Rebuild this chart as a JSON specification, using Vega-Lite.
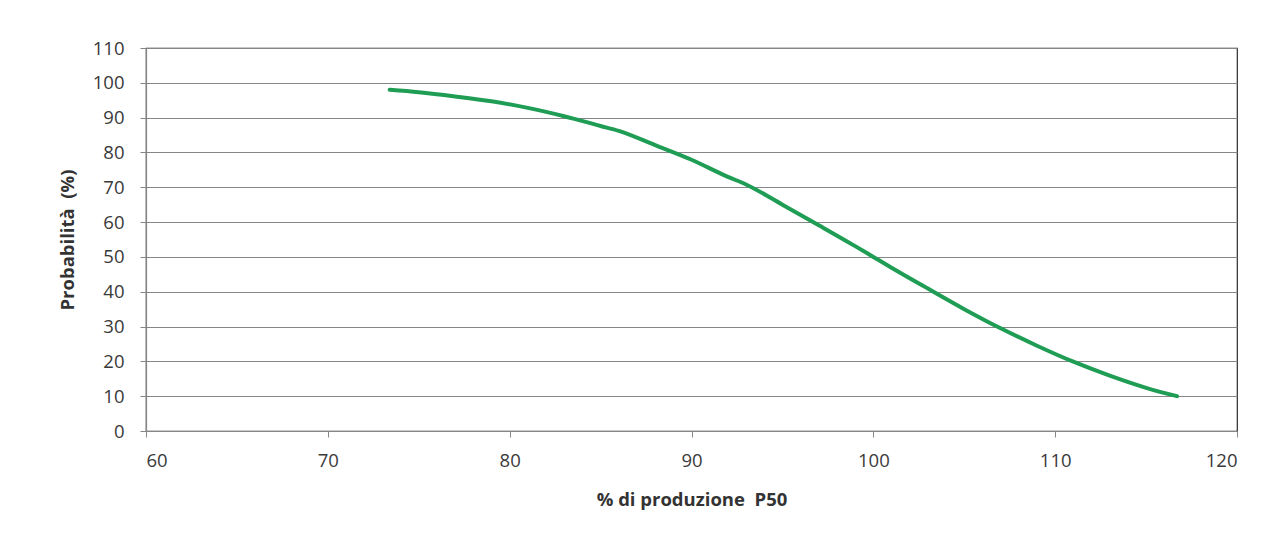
{
  "$schema": "https://vega.github.io/schema/vega-lite/v6.json",
  "width": 1091,
  "height": 383,
  "autosize": {"type": "none"},
  "padding": {"left": 146, "top": 48, "right": 48, "bottom": 127},
  "background": "white",
  "config": {
    "view": {"stroke": "#2b2b2b", "strokeWidth": 1.2},
    "font": "Open Sans"
  },
  "data": {
    "values": [
      {"x": 73.4, "p": 98.0},
      {"x": 75, "p": 97.3},
      {"x": 77, "p": 96.1},
      {"x": 79, "p": 94.7},
      {"x": 81, "p": 92.8},
      {"x": 83, "p": 90.4},
      {"x": 85, "p": 87.6},
      {"x": 86, "p": 86.2},
      {"x": 88, "p": 82.1},
      {"x": 90, "p": 77.9},
      {"x": 92, "p": 73.0},
      {"x": 93, "p": 70.8},
      {"x": 95, "p": 65.0},
      {"x": 97, "p": 59.1},
      {"x": 99, "p": 53.1},
      {"x": 100, "p": 50.0},
      {"x": 101, "p": 46.9},
      {"x": 103, "p": 40.9},
      {"x": 105, "p": 35.0},
      {"x": 107, "p": 29.5},
      {"x": 109, "p": 24.5},
      {"x": 111, "p": 19.9},
      {"x": 113, "p": 15.9},
      {"x": 115, "p": 12.4},
      {"x": 116.7, "p": 10.0}
    ]
  },
  "mark": {"type": "line", "color": "#1f9d55", "strokeWidth": 4, "interpolate": "monotone", "strokeCap": "round"},
  "encoding": {
    "x": {
      "field": "x", "type": "quantitative",
      "scale": {"domain": [60, 120], "nice": false, "zero": false},
      "axis": {
        "title": "% di produzione\u00a0 P50",
        "values": [60, 70, 80, 90, 100, 110, 120],
        "grid": false,
        "domainColor": "#868686", "domainWidth": 1.2,
        "tickColor": "#868686", "tickSize": 6,
        "labelFontSize": 18.5, "labelColor": "#3a3a3a", "labelPadding": 14,
        "titleFontSize": 18.5, "titleFontWeight": "bold", "titleColor": "#333333", "titlePadding": 21
      }
    },
    "y": {
      "field": "p", "type": "quantitative",
      "scale": {"domain": [0, 110], "nice": false},
      "axis": {
        "title": "Probabilità\u00a0 (%)",
        "values": [0, 10, 20, 30, 40, 50, 60, 70, 80, 90, 100, 110],
        "grid": true, "gridColor": "#868686", "gridWidth": 1.2,
        "domainColor": "#868686", "domainWidth": 1.2,
        "tickColor": "#868686", "tickSize": 6,
        "labelFontSize": 18.5, "labelColor": "#3a3a3a", "labelPadding": 16,
        "titleFontSize": 18.5, "titleFontWeight": "bold", "titleColor": "#333333", "titlePadding": 15
      }
    }
  }
}
